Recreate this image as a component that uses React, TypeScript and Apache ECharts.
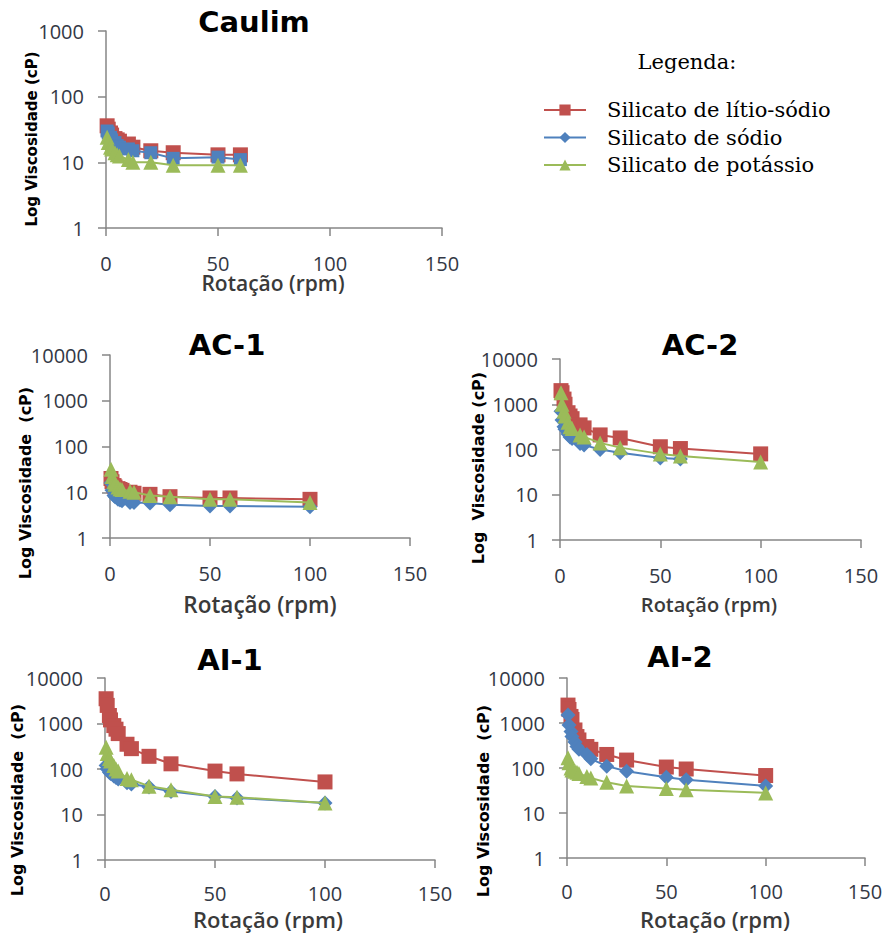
import React, { useEffect, useRef } from "react";
import * as echarts from "echarts";

// ---- data ----
const seriesNames = ["Silicato de lítio-sódio", "Silicato de sódio", "Silicato de potássio"];
const panelTitles = ["Caulim", "AC-1", "AC-2", "AI-1", "AI-2"];
const rpm = [0.5, 1, 2, 2.5, 4, 5, 6, 10, 12, 20, 30, 50, 60, 100];

const caulimLiNa = [36, 32, 28, 26, 23, 22, 21, 19, 17, 15, 14, 13, 13];
const caulimNa = [30, 28, 24, 22, 20, 18, 17, 16, 15, 14, 11.5, 12, 11];
const caulimK = [24, 20, 17, 16, 14, 13, 12.5, 11, 10, 10, 9, 9, 9];

const ac1LiNa = [20, 17, 14, 13, 12, 11.5, 11, 10, 9.5, 9, 8, 7.5, 7.5, 7];
const ac1Na = [16, 11, 8.5, 8, 7, 6.8, 6.5, 6, 6, 5.8, 5.3, 5, 5, 4.8];
const ac1K = [32, 22, 17, 15, 13, 12, 11.5, 10.5, 10, 8.5, 8, 7, 7, 6];

const ac2LiNa = [2000, 1800, 1300, 1000, 650, 550, 480, 350, 300, 210, 180, 115, 105, 80];
const ac2Na = [700, 450, 320, 280, 220, 190, 175, 135, 125, 100, 85, 65, 62];
const ac2K = [1800, 1000, 700, 550, 400, 320, 290, 210, 190, 140, 110, 80, 72, 53];

const ai1LiNa = [3500, 2500, 1500, 1200, 900, 750, 600, 350, 280, 190, 130, 90, 78, 52];
const ai1Na = [120, 100, 85, 80, 70, 65, 60, 50, 47, 40, 32, 25, 23, 18];
const ai1K = [300, 220, 170, 150, 120, 100, 90, 62, 58, 42, 35, 25, 24, 18];

const ai2LiNa = [2500, 2000, 1400, 1200, 700, 500, 420, 300, 260, 200, 150, 105, 95, 68];
const ai2Na = [1500, 900, 650, 500, 380, 300, 260, 200, 160, 110, 85, 62, 55, 40];
const ai2K = [170, 130, 100, 90, 85, 80, 75, 65, 60, 48, 40, 35, 33, 28];

const panelValues = [
  [caulimLiNa, caulimNa, caulimK],
  [ac1LiNa, ac1Na, ac1K],
  [ac2LiNa, ac2Na, ac2K],
  [ai1LiNa, ai1Na, ai1K],
  [ai2LiNa, ai2Na, ai2K],
];
const panelYMax = [1000, 10000, 10000, 10000, 10000];
const yNames = ["Log Viscosidade (cP)", "Log Viscosidade  (cP)", "Log  Viscosidade (cP)", "Log Viscosidade  (cP)", "Log Viscosidade  (cP)"];
const xName = "Rotação (rpm)";
const legendTitle = "Legenda:";

// ---- layout / style ----
const layout = [
  { grid: { left: 106, top: 31, width: 336, height: 197 }, title: [254, 22], yName: [32, 139], yNameSize: 15, xName: [273, 283], xNameSize: 21 },
  { grid: { left: 110, top: 355, width: 300, height: 183 }, title: [227, 345], yName: [25, 483], yNameSize: 16, xName: [260, 604], xNameSize: 22.5 },
  { grid: { left: 560, top: 359, width: 301, height: 181 }, title: [700, 345], yName: [478, 468], yNameSize: 16, xName: [709, 604], xNameSize: 20 },
  { grid: { left: 105, top: 678, width: 330, height: 182 }, title: [230, 660], yName: [17, 800], yNameSize: 16, xName: [268, 919], xNameSize: 22 },
  { grid: { left: 567, top: 678, width: 298, height: 180 }, title: [680, 657], yName: [483, 801], yNameSize: 16, xName: [715, 919], xNameSize: 22 },
];
const colors = ["#C0504D", "#4F81BD", "#9BBB59"];
const symbols = ["rect", "diamond", "triangle"];
const symbolSizes = [15, 15, 15];

export default function App() {
  const ref = useRef<HTMLDivElement>(null);
  useEffect(() => {
    document.body.style.margin = "0";
    const chart = echarts.init(ref.current!, null, { renderer: "svg" });

    const grid = layout.map((l) => ({ ...l.grid, containLabel: false }));
    const xAxis = layout.map((_, i) => ({
      type: "value",
      gridIndex: i,
      min: 0,
      max: 150,
      interval: 50,
      axisLine: { show: true, onZero: false, lineStyle: { color: "#868686", width: 1.5 } },
      axisTick: { show: true, length: 8, lineStyle: { color: "#868686", width: 1.5 } },
      splitLine: { show: false },
      axisLabel: { margin: i >= 3 ? 23 : 25, fontFamily: "Open Sans", fontSize: 20, color: "#333845" },
    }));
    const yAxis = layout.map((_, i) => ({
      type: "log",
      logBase: 10,
      gridIndex: i,
      min: 1,
      max: panelYMax[i],
      axisLine: { show: true, lineStyle: { color: "#868686", width: 1.5 } },
      axisTick: { show: true, length: 8, lineStyle: { color: "#868686", width: 1.5 } },
      splitLine: { show: false },
      minorTick: { show: false },
      axisLabel: {
        margin: 22,
        fontFamily: "Open Sans",
        fontSize: 20,
        color: "#333845",
        formatter: (v: number) => String(Math.round(v)),
      },
    }));

    const series: any[] = [];
    // draw AC/AI panels first so legend picks their styles, Caulim last
    const order = [1, 2, 3, 4, 0];
    order.forEach((p) => {
      panelValues[p].forEach((vals, s) => {
        series.push({
          type: "line",
          name: seriesNames[s],
          xAxisIndex: p,
          yAxisIndex: p,
          data: vals.map((v, j) => [rpm[j], v]),
          symbol: p === 0 && s === 1 ? "rect" : symbols[s],
          symbolSize: p === 0 && s === 1 ? 13 : symbolSizes[s],
          showAllSymbol: true,
          lineStyle: { color: colors[s], width: 2 },
          itemStyle: { color: colors[s] },
          z: 2 + s,
        });
      });
    });

    const graphic: any[] = [];
    layout.forEach((l, i) => {
      graphic.push({
        type: "text",
        x: l.title[0],
        y: l.title[1],
        style: { text: panelTitles[i], font: 'bold 29px "DejaVu Sans"', fill: "#000", align: "center", verticalAlign: "middle" },
      });
      graphic.push({
        type: "text",
        x: l.yName[0],
        y: l.yName[1],
        rotation: Math.PI / 2,
        style: { text: yNames[i], font: `bold ${l.yNameSize}px "DejaVu Sans"`, fill: "#000", align: "center", verticalAlign: "middle" },
      });
      graphic.push({
        type: "text",
        x: l.xName[0],
        y: l.xName[1],
        style: { text: xName, font: `600 ${l.xNameSize}px "Open Sans"`, fill: "#3a3a3a", align: "center", verticalAlign: "middle" },
      });
    });
    graphic.push({
      type: "text",
      x: 687,
      y: 62,
      style: { text: legendTitle, font: '21px "DejaVu Serif"', fill: "#000", align: "center", verticalAlign: "middle" },
    });

    chart.setOption({
      animation: false,
      backgroundColor: "#fff",
      grid,
      xAxis,
      yAxis,
      series,
      graphic,
      legend: {
        data: seriesNames,
        orient: "vertical",
        left: 543,
        top: 99,
        padding: 0,
        itemWidth: 42,
        itemHeight: 14,
        itemGap: 5.5,
        textStyle: { fontFamily: "DejaVu Serif", fontSize: 21, lineHeight: 22, color: "#000", padding: [0, 0, 0, 16] },
        selectedMode: false,
      },
    });
    return () => chart.dispose();
  }, []);
  return <div ref={ref} style={{ width: 887, height: 935 }} />;
}
